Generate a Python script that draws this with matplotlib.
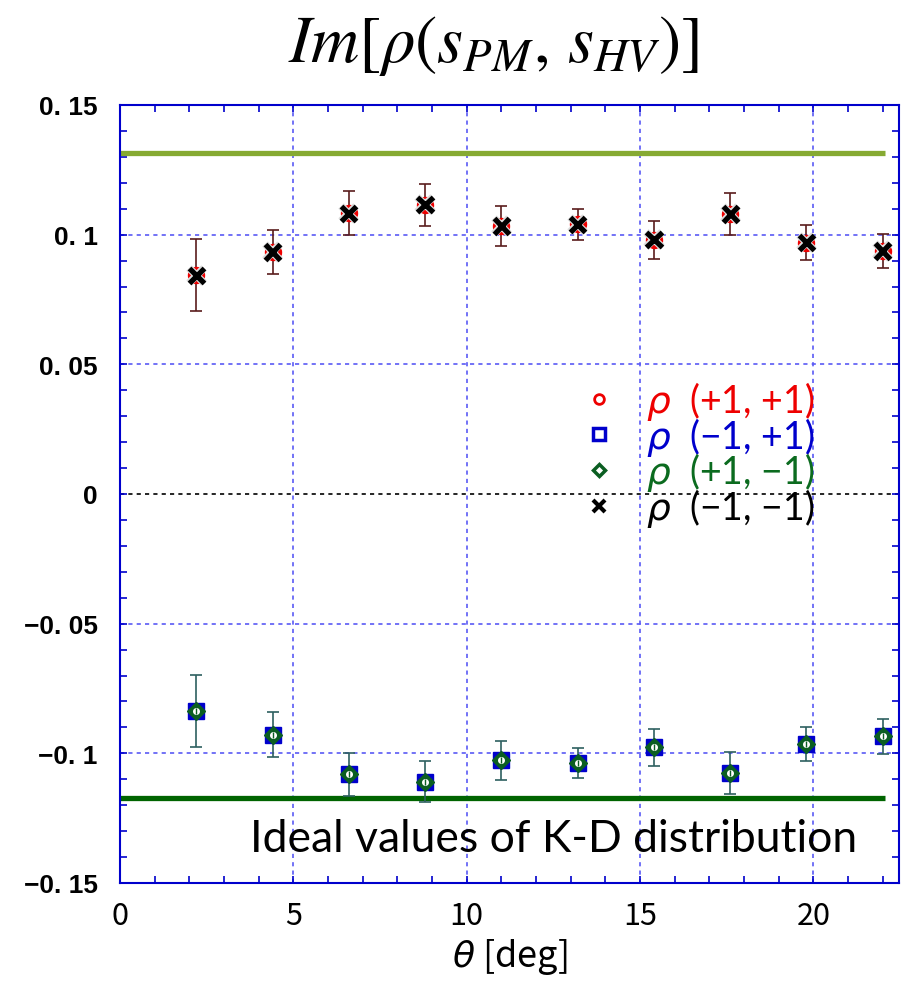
import numpy as np
import matplotlib
matplotlib.use("Agg")
import matplotlib.pyplot as plt
import matplotlib.patheffects as pe
from matplotlib.lines import Line2D
from matplotlib.ticker import MultipleLocator

# angle of each measurement [deg]
theta = [2.2, 4.4, 6.6, 8.8, 11.0, 13.2, 15.4, 17.6, 19.8, 22.0]

# Im[rho] for each spin combination
rho_pp = [0.0843, 0.0933, 0.1083, 0.1115, 0.1033, 0.1040, 0.0980, 0.1080, 0.0969, 0.0937]
rho_mm = [0.0843, 0.0933, 0.1083, 0.1115, 0.1033, 0.1040, 0.0980, 0.1080, 0.0969, 0.0937]
err_top = [0.0139, 0.0086, 0.0085, 0.0080, 0.0076, 0.0059, 0.0072, 0.0080, 0.0067, 0.0066]

rho_mp = [-0.0836, -0.0928, -0.1081, -0.1109, -0.1027, -0.1036, -0.0977, -0.1077, -0.0964, -0.0935]
rho_pm = [-0.0836, -0.0928, -0.1081, -0.1109, -0.1027, -0.1036, -0.0977, -0.1077, -0.0964, -0.0935]
err_bot = [0.0139, 0.0087, 0.0084, 0.0079, 0.0075, 0.0058, 0.0070, 0.0081, 0.0067, 0.0066]

# ideal K-D values
ideal_upper = 0.1315
ideal_lower = -0.1173
ideal_xmax = 22.07

yticks = [-0.15, -0.1, -0.05, 0, 0.05, 0.1, 0.15]
ytick_labels = ["\u22120. 15", "\u22120. 1", "\u22120. 05", "0", "0. 05", "0. 1", "0. 15"]
xticks = [0, 5, 10, 15, 20]
xtick_labels = ["0", "5", "10", "15", "20"]

legend_labels = ["$\\rho$  (+1, +1)", "$\\rho$  (\u22121, +1)", "$\\rho$  (+1, \u22121)", "$\\rho$  (\u22121, \u22121)"]

blue = "#0000cc"
grid_blue = "#5a5af5"
narrow = ["Noto Sans CJK JP", "DejaVu Sans"]

fig = plt.figure(figsize=(9.05, 9.95), dpi=100)
ax = fig.add_axes([120 / 905, 111 / 995, 779 / 905, 778 / 995])
ax.set_xlim(0, 22.47)
ax.set_ylim(-0.15, 0.15)

# grid lines by hand (zero line is black)
for yv in yticks:
    if abs(yv) == 0.15:
        continue
    c = "black" if yv == 0 else grid_blue
    ax.axhline(yv, color=c, ls=(0, (2.5, 2.5)), lw=1.2, zorder=1)
for xv in xticks[1:]:
    ax.axvline(xv, color=grid_blue, ls=(0, (2.5, 2.5)), lw=1.2, zorder=1)

ax.hlines(ideal_upper, 0, ideal_xmax, color="#86aa32", lw=3.8, zorder=2)
ax.hlines(ideal_lower, 0, ideal_xmax, color="#006400", lw=3.8, zorder=2)

# upper group
ax.errorbar(theta, rho_pp, yerr=err_top, fmt="none", ecolor="#5a1c1c",
            elinewidth=1.2, capsize=4.5, capthick=1.2, zorder=3)
ax.plot(theta, rho_pp, "o", color="#ee0000", ms=11.5, zorder=4)
ax.plot(theta, rho_mm, "x", color="black", ms=11, mew=3.8, zorder=5,
        path_effects=[pe.withStroke(linewidth=5.5, foreground="#dddddd")])

# lower group
ax.errorbar(theta, rho_mp, yerr=err_bot, fmt="none", ecolor="#2e6060",
            elinewidth=1.2, capsize=4.5, capthick=1.2, zorder=3)
ax.plot(theta, rho_mp, "s", color="#0000cc", ms=12, zorder=4)
ax.plot(theta, rho_pm, "D", color="#0b5e22", ms=9, zorder=5)
ax.plot(theta, rho_pm, "o", color="white", ms=4, zorder=6)
ax.plot(theta, rho_pm, "|", color="#0b5e22", ms=4, mew=1, zorder=7)

ax.text(0.167, 0.041, "Ideal values of K-D distribution", transform=ax.transAxes,
        fontsize=32, family="Lato", va="baseline", ha="left", zorder=8)

# spines & ticks
for s in ax.spines.values():
    s.set_color(blue)
    s.set_linewidth(1.5)
ax.set_yticks(yticks)
ax.set_yticklabels(ytick_labels, fontsize=19, fontweight="bold", family="Liberation Sans")
ax.set_xticks(xticks)
ax.set_xticklabels(xtick_labels, fontsize=22, family=narrow)
ax.xaxis.set_minor_locator(MultipleLocator(1))
ax.yaxis.set_minor_locator(MultipleLocator(0.01))
ax.tick_params(which="both", direction="in", top=True, right=True, color=blue,
               length=5, width=1.2)
ax.tick_params(axis="y", pad=16)
ax.tick_params(axis="x", pad=12)

ax.set_xlabel(r"$\theta$ [deg]", fontsize=26, family=narrow, math_fontfamily="dejavusans")
ax.xaxis.set_label_coords(0.5, -0.068)

fig.text(0.545, 0.955, r"$Im[\rho(s_{PM},\,s_{HV})]$", fontsize=48,
         math_fontfamily="stix", ha="center", va="center")

# legend
handles = [
    Line2D([], [], ls="none", marker="o", ms=7, mfc="none", mec="#ee0000", mew=2),
    Line2D([], [], ls="none", marker="s", ms=9, mfc="none", mec="#0000cc", mew=2.5),
    Line2D([], [], ls="none", marker="D", ms=6.5, mfc="none", mec="#0b5e22", mew=2.5),
    Line2D([], [], ls="none", marker="x", ms=8, mec="black", mew=3),
]
leg = ax.legend(handles, legend_labels, loc="center left",
                bbox_to_anchor=(584 / 905, 1 - 455 / 995), bbox_transform=fig.transFigure,
                frameon=False, borderpad=0, borderaxespad=0, handlelength=0.8,
                handletextpad=0.85, labelspacing=-0.19,
                labelcolor=["#ee0000", "#0000cc", "#0b6b1f", "black"],
                prop={"family": "Lato", "size": 27, "math_fontfamily": "dejavusans"})
leg.set_zorder(9)

fig.savefig("out.png", dpi=100)
